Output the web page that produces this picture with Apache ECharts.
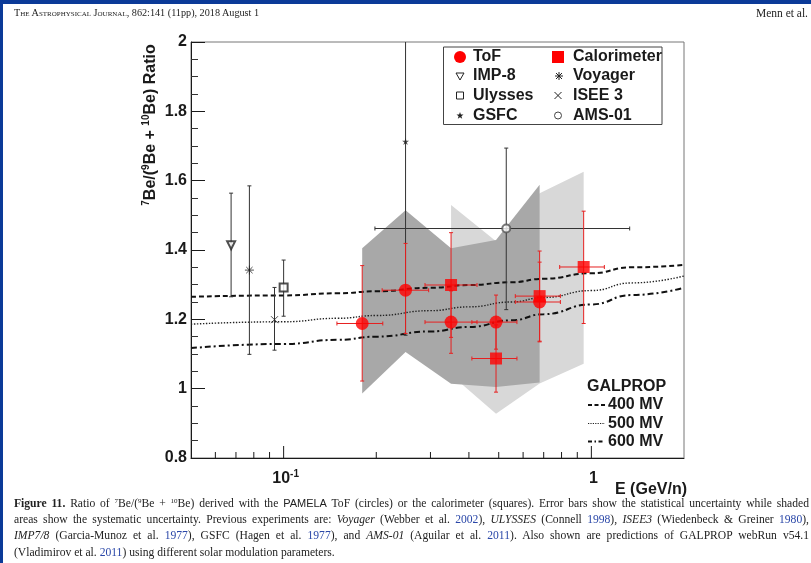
<!DOCTYPE html>
<html>
<head>
<meta charset="utf-8">
<script src="https://cdn.jsdelivr.net/npm/echarts@6/dist/echarts.min.js"></script>
<style>
  html, body { margin: 0; padding: 0; background: #fff; }
  #page { position: relative; width: 811px; height: 563px; overflow: hidden; background: #fff; }
  #chart { position: absolute; left: 0; top: 0; width: 811px; height: 563px; }
  .blue-top { position: absolute; left: 0; top: 0; width: 811px; height: 4px; background: #0b3a98; }
  .blue-left { position: absolute; left: 0; top: 0; width: 3px; height: 563px; background: #0b3a98; }
  .head { position: absolute; top: 7px; font-family: "Liberation Serif", serif; color: #222; }
  .head.l { left: 14px; font-size: 10.2px; }
  .head.l .sc { font-variant: small-caps; }
  .head.r { right: 3px; font-size: 11.5px; }
  .cl { position: absolute; left: 14px; width: 795px; height: 16px; line-height: 16px;
        font-family: "Liberation Serif", serif; font-size: 11.6px; color: #222;
        text-align: justify; text-align-last: justify; }
  .cl.last { text-align-last: left; }
  .cl sup { font-size: 7px; line-height: 0; vertical-align: 4px; }
  .cl .y { color: #2a47a8; }
  .cl .sans { font-family: "Liberation Sans", sans-serif; font-size: 11px; }
</style>
</head>
<body>
<div id="page">
  <div id="chart"></div>
  <div class="blue-top"></div>
  <div class="blue-left"></div>
  <div class="head l"><span class="sc">The Astrophysical Journal</span>, 862:141 (11pp), 2018 August 1</div>
  <div class="head r">Menn et al.</div>
  <div class="cl" style="top:495px"><b>Figure 11.</b> Ratio of <sup>7</sup>Be/(<sup>9</sup>Be + <sup>10</sup>Be) derived with the <span class="sans">PAMELA</span> ToF (circles) or the calorimeter (squares). Error bars show the statistical uncertainty while shaded</div>
  <div class="cl" style="top:511.5px">areas show the systematic uncertainty. Previous experiments are: <i>Voyager</i> (Webber et al. <span class="y">2002</span>), <i>ULYSSES</i> (Connell <span class="y">1998</span>), <i>ISEE3</i> (Wiedenbeck &amp; Greiner <span class="y">1980</span>),</div>
  <div class="cl" style="top:528px"><i>IMP7/8</i> (Garcia-Munoz et al. <span class="y">1977</span>), GSFC (Hagen et al. <span class="y">1977</span>), and <i>AMS-01</i> (Aguilar et al. <span class="y">2011</span>). Also shown are predictions of GALPROP webRun v54.1</div>
  <div class="cl last" style="top:544.5px">(Vladimirov et al. <span class="y">2011</span>) using different solar modulation parameters.</div>
</div>
<script>
// rows: [E, ratio, E low, E high, ratio low, ratio high]
var tofPoints = [
  [0.180, 1.188, 0.149, 0.210, 1.022, 1.355],
  [0.249, 1.284, 0.209, 0.296, 1.159, 1.419],
  [0.350, 1.192, 0.288, 0.425, 1.102, 1.282],
  [0.490, 1.192, 0.409, 0.573, 1.114, 1.270],
  [0.679, 1.250, 0.566, 0.793, 1.135, 1.365]
];
var caloPoints = [
  [0.350, 1.299, 0.288, 0.425, 1.148, 1.450],
  [0.490, 1.087, 0.409, 0.573, 0.990, 1.184],
  [0.679, 1.267, 0.566, 0.793, 1.137, 1.397],
  [0.944, 1.351, 0.789, 1.102, 1.188, 1.512]
];
var imp8 = [[0.0675, 1.414, 0.0675, 0.0675, 1.265, 1.564]];
var voyager = [[0.0774, 1.342, 0.0774, 0.0774, 1.099, 1.585]];
var ulysses = [[0.100, 1.292, 0.100, 0.100, 1.209, 1.371]];
var isee3 = [[0.0934, 1.199, 0.0934, 0.0934, 1.111, 1.292]];
var gsfc = [[0.249, 1.713, 0.249, 0.249, 1.154, 2.27]];
var ams01 = [[0.529, 1.462, 0.198, 1.332, 1.228, 1.694]];

// systematic bands
var tofBandE = [0.180, 0.249, 0.350, 0.490, 0.679];
var tofBandHi = [1.405, 1.515, 1.405, 1.429, 1.588];
var tofBandLo = [0.986, 1.106, 1.014, 1.005, 1.018];
var caloBandE = [0.350, 0.490, 0.679, 0.944];
var caloBandHi = [1.530, 1.425, 1.564, 1.626];
var caloBandLo = [1.040, 0.928, 1.015, 1.072];

// GALPROP predictions
var galpropE = [0.05, 0.1, 0.15, 0.2, 0.3, 0.4, 0.55, 0.7, 1.0, 1.35, 2.0];
var galprop400 = [1.265, 1.269, 1.275, 1.281, 1.291, 1.299, 1.307, 1.317, 1.333, 1.350, 1.357];
var galprop500 = [1.186, 1.193, 1.203, 1.211, 1.225, 1.236, 1.250, 1.263, 1.283, 1.305, 1.325];
var galprop600 = [1.117, 1.129, 1.141, 1.150, 1.165, 1.178, 1.197, 1.215, 1.243, 1.270, 1.291];

// x axis ticks / labels
var xMajorTicks = [0.1, 1];
var xMinorTicks = [0.06, 0.07, 0.08, 0.09, 0.2, 0.3, 0.4, 0.5, 0.6, 0.7, 0.8, 0.9];
var xLabelVals = [0.1, 1];
var xLabelText = ['{n|10}{s|-1}', '{n|1}'];

var FONT = '"Liberation Sans", Arial, sans-serif';
var RED = '#ff0000';
var INK = '#1a1a1a';

function zip(xs, ys) {
  return xs.map(function (x, i) { return [x, ys[i]]; });
}

function errBars(color) {
  return function (params, api) {
    var e = api.value(0), r = api.value(1);
    var a = api.coord([api.value(2), r]), b = api.coord([api.value(3), r]);
    var lo = api.coord([e, api.value(4)]), hi = api.coord([e, api.value(5)]);
    var st = { stroke: color, lineWidth: 1 };
    var c = 2;
    var kids = [
      { type: 'line', shape: { x1: lo[0], y1: lo[1], x2: hi[0], y2: hi[1] }, style: st },
      { type: 'line', shape: { x1: lo[0] - c, y1: lo[1], x2: lo[0] + c, y2: lo[1] }, style: st },
      { type: 'line', shape: { x1: hi[0] - c, y1: hi[1], x2: hi[0] + c, y2: hi[1] }, style: st }
    ];
    if (b[0] - a[0] > 1) {
      kids.push({ type: 'line', shape: { x1: a[0], y1: a[1], x2: b[0], y2: b[1] }, style: st });
      kids.push({ type: 'line', shape: { x1: a[0], y1: a[1] - c, x2: a[0], y2: a[1] + c }, style: st });
      kids.push({ type: 'line', shape: { x1: b[0], y1: b[1] - c, x2: b[0], y2: b[1] + c }, style: st });
    }
    return { type: 'group', children: kids };
  };
}

function band(es, his, los, fill) {
  return function (params, api) {
    if (params.dataIndex !== 0) return;
    var pts = [];
    for (var i = 0; i < es.length; i++) pts.push(api.coord([es[i], his[i]]));
    for (var j = es.length - 1; j >= 0; j--) pts.push(api.coord([es[j], los[j]]));
    return { type: 'polygon', shape: { points: pts }, style: { fill: fill } };
  };
}

function errSeries(data, color, z) {
  return {
    type: 'custom', data: data, z: z, clip: true,
    encode: { x: 0, y: 1 },
    renderItem: errBars(color)
  };
}

function marker(data, symbol, size, style, z, rotate) {
  return {
    type: 'scatter', data: data.map(function (d) { return [d[0], d[1]]; }),
    symbol: symbol, symbolSize: size, symbolRotate: rotate || 0,
    itemStyle: style, z: z, silent: true
  };
}

// legend helpers (plain graphic elements, fixed place in the box)
function gLine(x1, y1, x2, y2, stroke, w, dash) {
  var st = { stroke: stroke, lineWidth: w };
  if (dash) st.lineDash = dash;
  return { type: 'line', z: 21, shape: { x1: x1, y1: y1, x2: x2, y2: y2 }, style: st };
}
function gText(x, y, text) {
  return {
    type: 'text', z: 21, x: x, y: y,
    style: { text: text, fill: INK, font: 'bold 16px ' + FONT, verticalAlign: 'middle', textVerticalAlign: 'middle' }
  };
}

var tickData = xMajorTicks.map(function (v) { return [v, 0.8, 12]; })
  .concat(xMinorTicks.map(function (v) { return [v, 0.8, 6]; }));

var richLabel = {
  n: { fontFamily: FONT, fontWeight: 'bold', fontSize: 16, lineHeight: 20, fill: INK },
  s: { fontFamily: FONT, fontWeight: 'bold', fontSize: 10, lineHeight: 10, verticalAlign: 'top', fill: INK }
};

var chart = echarts.init(document.getElementById('chart'));

var option = {
  animation: false,
  backgroundColor: '#fff',
  grid: {
    left: 191, right: 127, top: 42, bottom: 105,
    show: true, borderColor: '#777', borderWidth: 1, backgroundColor: 'transparent',
    containLabel: false, outerBoundsMode: 'none'
  },
  xAxis: {
    type: 'log', logBase: 10, min: 0.05, max: 2,
    axisLine: { show: true, onZero: false, lineStyle: { color: INK, width: 1 } },
    axisTick: { show: false },
    axisLabel: { show: false },
    splitLine: { show: false }
  },
  yAxis: {
    type: 'value', min: 0.8, max: 2, interval: 0.2,
    axisLine: { show: true, lineStyle: { color: INK, width: 1 } },
    axisTick: { show: true, inside: true, length: 14, lineStyle: { color: INK } },
    minorTick: { show: true, splitNumber: 4, length: 7, lineStyle: { color: '#333' } },
    axisLabel: { fontFamily: FONT, fontWeight: 'bold', fontSize: 16, color: INK, margin: 4 },
    splitLine: { show: false }
  },
  series: [
    {
      type: 'custom', z: 1, encode: { x: 0, y: 1 },
      data: caloBandE.map(function (e, i) { return [e, caloBandLo[i], caloBandHi[i]]; }),
      renderItem: band(caloBandE, caloBandHi, caloBandLo, '#d8d8d8')
    },
    {
      type: 'custom', z: 1, encode: { x: 0, y: 1 },
      data: tofBandE.map(function (e, i) { return [e, tofBandLo[i], tofBandHi[i]]; }),
      renderItem: band(tofBandE, tofBandHi, tofBandLo, '#a8a8a8')
    },
    {
      type: 'line', data: zip(galpropE, galprop400), showSymbol: false, smooth: true, smoothMonotone: 'x', z: 3,
      lineStyle: { color: '#111', width: 2, type: [5, 3] }
    },
    {
      type: 'line', data: zip(galpropE, galprop500), showSymbol: false, smooth: true, smoothMonotone: 'x', z: 3,
      lineStyle: { color: '#222', width: 1.4, type: [1.4, 1.6] }
    },
    {
      type: 'line', data: zip(galpropE, galprop600), showSymbol: false, smooth: true, smoothMonotone: 'x', z: 3,
      lineStyle: { color: '#111', width: 2, type: [6, 3, 2, 3] }
    },
    errSeries(imp8, '#333', 4),
    errSeries(voyager, '#333', 4),
    errSeries(ulysses, '#333', 4),
    errSeries(isee3, '#333', 4),
    errSeries(gsfc, '#333', 4),
    errSeries(ams01, '#333', 4),
    marker(imp8, 'emptyTriangle', 8, { color: '#222', borderWidth: 1 }, 5, 180),
    marker(voyager, 'path://M5,0L5,10M0,5L10,5M1.5,1.5L8.5,8.5M1.5,8.5L8.5,1.5', 9,
      { color: 'rgba(0,0,0,0)', borderColor: '#222', borderWidth: 1 }, 5),
    marker(ulysses, 'emptyRect', 8, { color: '#222', borderWidth: 1 }, 5),
    marker(isee3, 'path://M0,0L10,10M0,10L10,0', 7,
      { color: 'rgba(0,0,0,0)', borderColor: '#222', borderWidth: 1 }, 5),
    marker(gsfc, 'path://M5,0L6.2,3.6L10,3.6L6.9,5.8L8.1,9.5L5,7.2L1.9,9.5L3.1,5.8L0,3.6L3.8,3.6Z', 7,
      { color: '#222' }, 5),
    marker(ams01, 'emptyCircle', 8, { color: '#555', borderWidth: 1.2 }, 5),
    errSeries(tofPoints, '#e62020', 6),
    errSeries(caloPoints, '#e62020', 6),
    marker(tofPoints, 'circle', 13, { color: RED }, 7),
    marker(caloPoints, 'rect', 12, { color: RED }, 7),
    {
      // x ticks
      type: 'custom', data: tickData, z: 8, encode: { x: 0, y: 1 }, silent: true,
      renderItem: function (params, api) {
        var p = api.coord([api.value(0), api.value(1)]);
        return {
          type: 'line', shape: { x1: p[0], y1: p[1], x2: p[0], y2: p[1] - api.value(2) },
          style: { stroke: INK, lineWidth: 1 }
        };
      }
    },
    {
      // x tick labels
      type: 'custom', z: 8, encode: { x: 0, y: 1 }, silent: true,
      data: xLabelVals.map(function (v) { return [v, 0.8]; }),
      renderItem: function (params, api) {
        var p = api.coord([api.value(0), api.value(1)]);
        return {
          type: 'text', x: p[0] + 2, y: p[1] + 21,
          style: {
            text: xLabelText[params.dataIndex], rich: richLabel,
            align: 'center', verticalAlign: 'middle',
            textAlign: 'center', textVerticalAlign: 'middle'
          }
        };
      }
    }
  ],
  graphic: [
    // y axis title
    {
      type: 'text', x: 151, y: 125, rotation: Math.PI / 2, z: 20,
      style: {
        text: '{s|7}{n|Be/(}{s|9}{n|Be + }{s|10}{n|Be) Ratio}', rich: richLabel,
        align: 'center', verticalAlign: 'middle', textAlign: 'center', textVerticalAlign: 'middle'
      }
    },
    // x axis title
    {
      type: 'text', x: 687, y: 490, z: 20,
      style: {
        text: 'E (GeV/n)', fill: INK, font: 'bold 16px ' + FONT,
        align: 'right', verticalAlign: 'middle', textAlign: 'right', textVerticalAlign: 'middle'
      }
    },
    // legend box
    {
      type: 'rect', z: 20, shape: { x: 443.5, y: 47, width: 218.5, height: 77.5 },
      style: { fill: '#fff', stroke: '#444', lineWidth: 1 }
    },
    { type: 'circle', z: 21, shape: { cx: 460, cy: 57, r: 6 }, style: { fill: RED } },
    { type: 'rect', z: 21, shape: { x: 552, y: 51, width: 12, height: 12 }, style: { fill: RED } },
    { type: 'polygon', z: 21, shape: { points: [[456, 73], [464, 73], [460, 80]] }, style: { fill: '#fff', stroke: '#222', lineWidth: 1 } },
    // Voyager asterisk
    gLine(555, 76, 563, 76, '#222', 1),
    gLine(559, 72, 559, 80, '#222', 1),
    gLine(556, 73, 562, 79, '#222', 1),
    gLine(556, 79, 562, 73, '#222', 1),
    { type: 'rect', z: 21, shape: { x: 456.5, y: 92, width: 7, height: 7 }, style: { fill: '#fff', stroke: '#222', lineWidth: 1 } },
    // ISEE 3 cross
    gLine(554.5, 92, 561.5, 99, '#222', 1),
    gLine(554.5, 99, 561.5, 92, '#222', 1),
    {
      type: 'polygon', z: 21,
      shape: { points: [[460, 112], [460.9, 114.6], [463.5, 114.6], [461.4, 116.2], [462.2, 118.8], [460, 117.2], [457.8, 118.8], [458.6, 116.2], [456.5, 114.6], [459.1, 114.6]] },
      style: { fill: '#222' }
    },
    { type: 'circle', z: 21, shape: { cx: 558, cy: 115.5, r: 3.5 }, style: { fill: '#fff', stroke: '#444', lineWidth: 1 } },
    gText(473, 57, 'ToF'),
    gText(573, 57, 'Calorimeter'),
    gText(473, 76, 'IMP-8'),
    gText(573, 76, 'Voyager'),
    gText(473, 95.5, 'Ulysses'),
    gText(573, 95.5, 'ISEE 3'),
    gText(473, 115.5, 'GSFC'),
    gText(573, 115.5, 'AMS-01'),
    // GALPROP legend
    gText(587, 387, 'GALPROP'),
    gLine(588, 405, 605, 405, '#111', 2, [4, 2.5]),
    gLine(588, 423.5, 605, 423.5, '#222', 1.2, [1.2, 1.2]),
    gLine(588, 441.5, 605, 441.5, '#111', 2, [4, 2.5, 1.5, 2.5]),
    gText(608, 405, '400 MV'),
    gText(608, 423.5, '500 MV'),
    gText(608, 441.5, '600 MV')
  ]
};

chart.setOption(option);
</script>
</body>
</html>
